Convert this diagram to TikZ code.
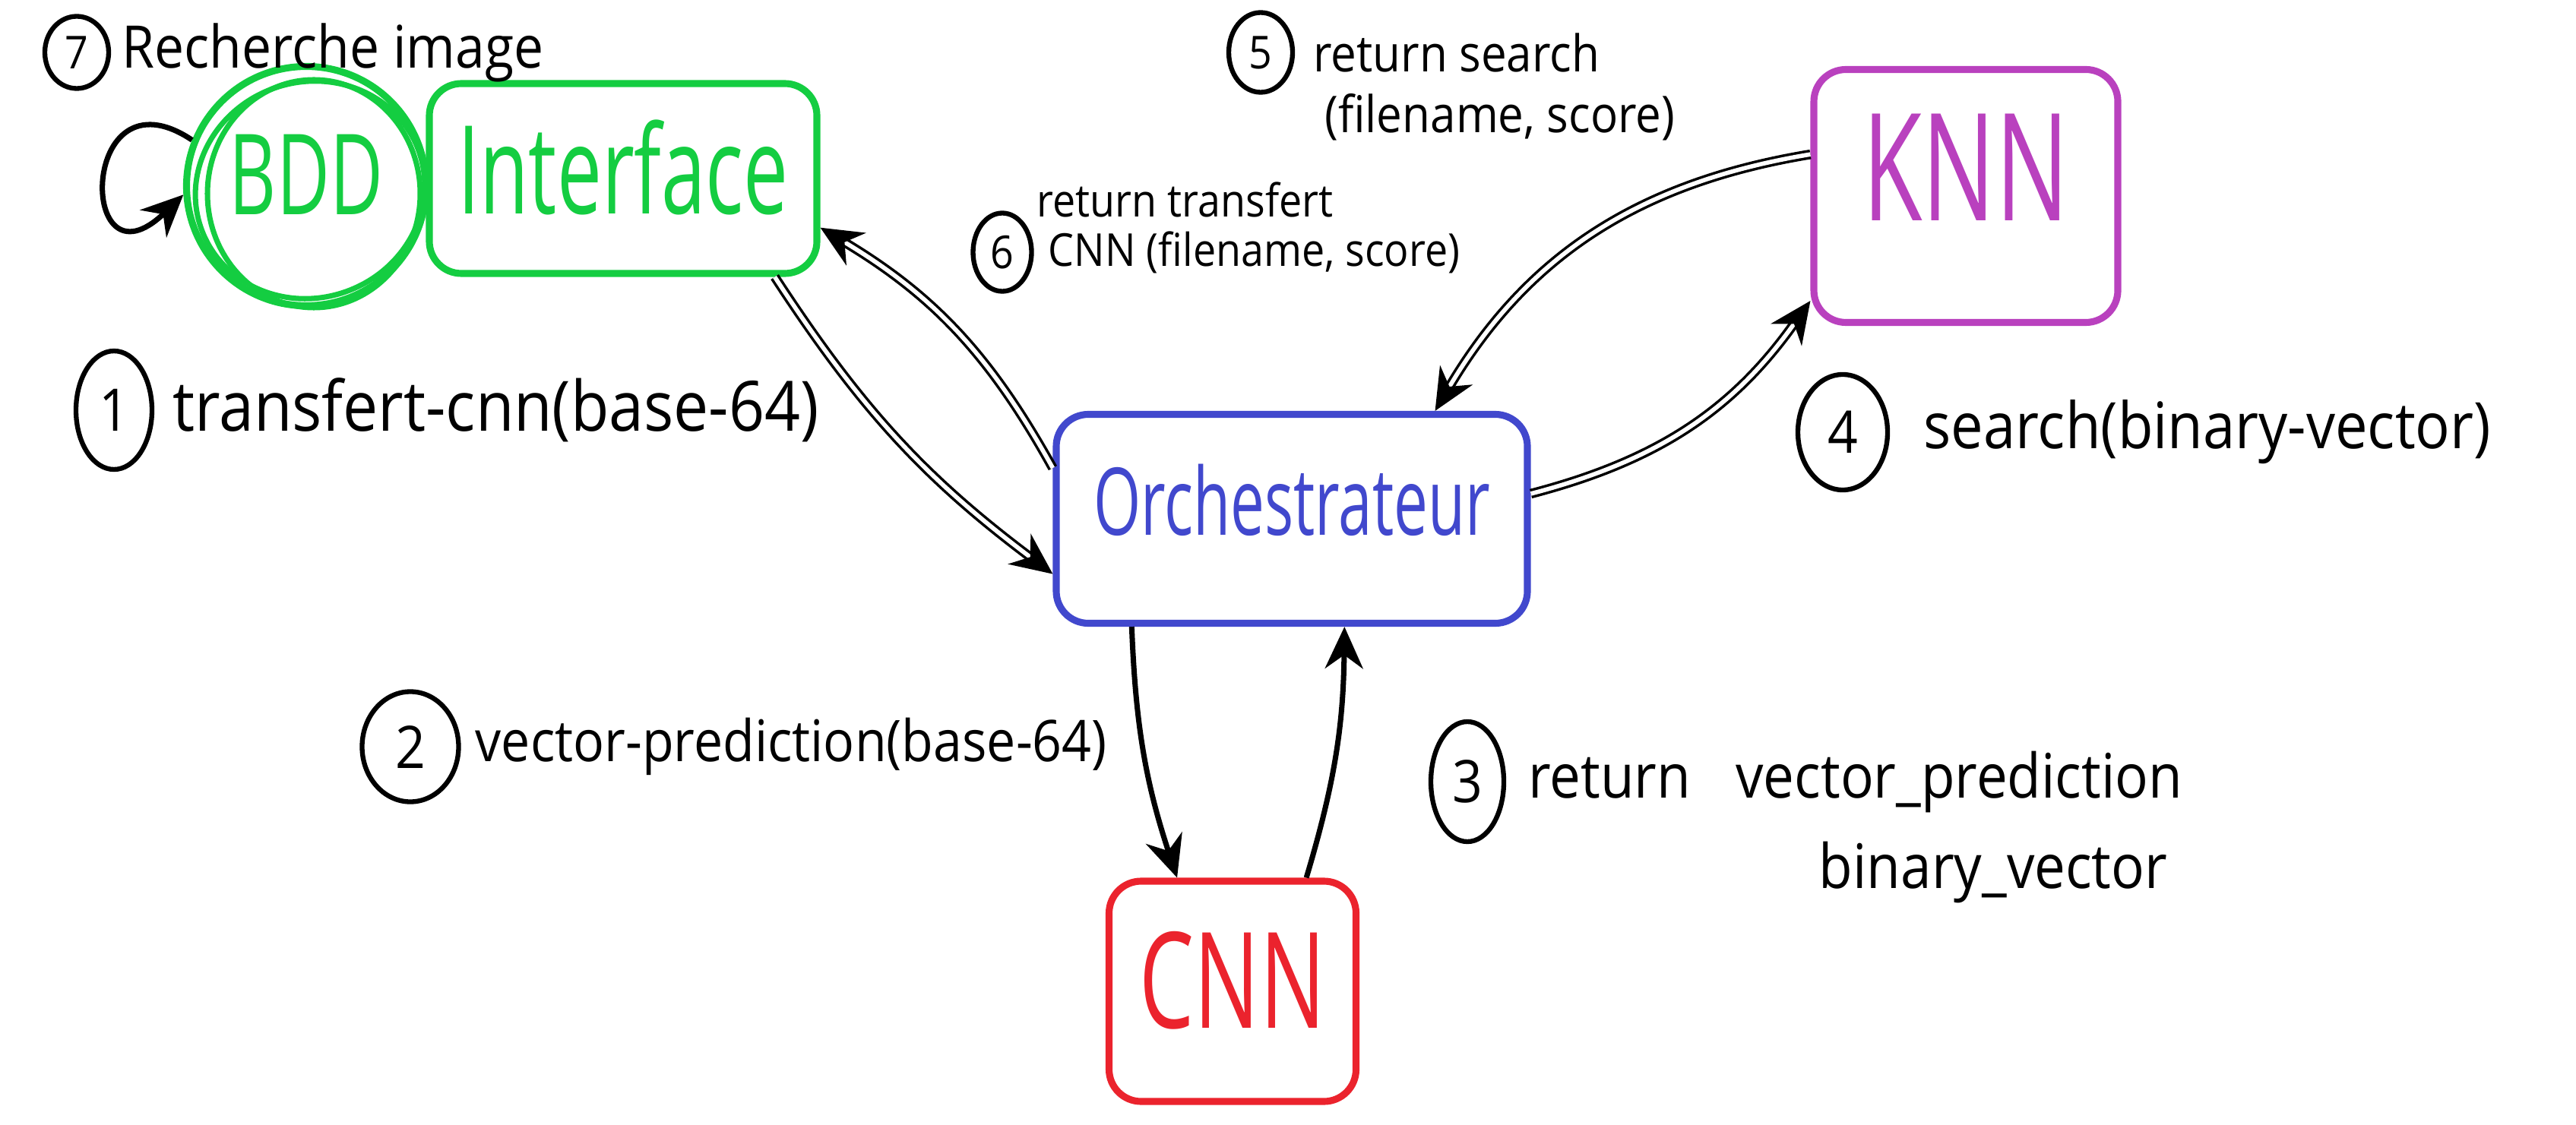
\documentclass[tikz,border=0pt]{standalone}
\usepackage{fontspec}
\usetikzlibrary{arrows.meta, shapes.geometric, positioning}
\newfontfamily\namefont{Open Sans}[FakeStretch=0.65]
\newfontfamily\labelfont{Open Sans}[FakeStretch=0.9]
\definecolor{igreen}{RGB}{20,205,65}
\definecolor{kpurple}{RGB}{185,65,190}
\definecolor{oblue}{RGB}{65,72,205}
\definecolor{cred}{RGB}{235,35,45}

\begin{document}
\begin{tikzpicture}[
	box/.style={draw, line width=2.6pt, rounded corners=12pt, inner sep=0pt},
	flow/.style={line width=2pt, -{Stealth[length=5.5mm, width=5mm]}},
	dflow/.style={flow, double, double distance=1.6pt, line width=1pt},
	num/.style={ellipse, draw, line width=1.8pt, minimum width=1.0cm, minimum height=1.56cm, inner sep=0pt, font=\labelfont\fontsize{22}{24}\selectfont},
	numsmall/.style={num, minimum width=0.84cm, minimum height=1.05cm, font=\labelfont\fontsize{17}{19}\selectfont},
	lbl/.style={inner sep=1pt, font=\labelfont\fontsize{24}{28}\selectfont},
	lblsmall/.style={inner sep=1pt, font=\labelfont\fontsize{18}{21}\selectfont}
]
\useasboundingbox (0,0) rectangle (33.9,14.8);

% boxes
\node[box, draw=igreen, text=igreen, minimum width=5.1cm, minimum height=2.5cm, text depth=0.3cm, font=\namefont\fontsize{46}{50}\selectfont] (interface) at (8.2,12.45) {Interface};
\node[circle, draw=igreen, line width=2.6pt, minimum size=3.15cm, text=igreen, text depth=0.3cm, font=\namefont\fontsize{42}{46}\selectfont] (bdd) at (4.03,12.35) {BDD};
\draw[igreen, line width=2pt] ([shift={(0.05,-0.05)}]bdd.center) ellipse [x radius=1.52cm, y radius=1.42cm, rotate=20];
\draw[igreen, line width=2pt] ([shift={(0.1,-0.1)}]bdd.center) ellipse [x radius=1.4cm, y radius=1.5cm];
\node[box, draw=kpurple, text=kpurple, minimum width=4cm, minimum height=3.33cm, text depth=0.76cm, font=\namefont\fontsize{56}{60}\selectfont] (knn) at (25.87,12.22) {KNN};
\node[box, draw=oblue, text=oblue, minimum width=6.2cm, minimum height=2.75cm, text depth=0.5cm, font=\namefont\fontsize{35}{38}\selectfont] (orch) at (17.0,7.97) {Orchestrateur};
\node[box, draw=cred, text=cred, minimum width=3.25cm, minimum height=2.9cm, text depth=0.3cm, font=\namefont\fontsize{50}{54}\selectfont] (cnn) at (16.22,1.75) {CNN};

% steps
\node[numsmall, minimum height=0.95cm] (n7) at (1.01,14.11) {7};
\node[lbl, right=0.1cm of n7, font=\labelfont\fontsize{22}{26}\selectfont] (l7) {Recherche image};

\node[num] (n1) at (1.5,9.4) {1};
\node[lbl, right=0.2cm of n1, font=\labelfont\fontsize{26}{30}\selectfont] (l1) {transfert-cnn(base-64)};

\node[num, minimum width=1.27cm, minimum height=1.45cm] (n2) at (5.4,4.97) {2};
\node[lbl, right=0.15cm of n2, font=\labelfont\fontsize{21.5}{25}\selectfont] (l2) {vector-prediction(base-64)};

\node[num, minimum width=0.96cm, minimum height=1.58cm] (n3) at (19.31,4.51) {3};
\node[lbl, right=0.25cm of n3, font=\labelfont\fontsize{23}{27}\selectfont] (l3) {return\enspace\ vector\_prediction};
\node[lbl, anchor=north east, font=\labelfont\fontsize{23}{27}\selectfont] (l3b) at ([xshift=-0.2cm, yshift=-0.3cm]l3.south east) {binary\_vector};

\node[num, minimum width=1.18cm, minimum height=1.52cm] (n4) at (24.25,9.11) {4};
\node[lbl, right=0.4cm of n4] (l4) {search(binary-vector)};

\node[numsmall] (n5) at (16.59,14.11) {5};
\node[lblsmall, right=0.2cm of n5, font=\labelfont\fontsize{19}{22}\selectfont] (l5) {return search};
\node[lblsmall, anchor=north west, font=\labelfont\fontsize{19}{22}\selectfont] (l5b) at ([xshift=0.15cm, yshift=-0.2cm]l5.south west) {(filename, score)};

\node[numsmall, minimum width=0.77cm, minimum height=1.03cm] (n6) at (13.19,11.48) {6};
\node[lblsmall, right=0.15cm of n6, font=\labelfont\fontsize{17}{20}\selectfont] (l6b) {CNN (filename, score)};
\node[lblsmall, anchor=south west, font=\labelfont\fontsize{17}{20}\selectfont] (l6) at ([xshift=-0.15cm, yshift=0.1cm]l6b.north west) {return transfert};

% connectors
\draw[flow] (bdd.158) .. controls +(-1.5,1.0) and +(-1.4,-1.35) .. (bdd.184);
\draw[dflow, bend right=10] (interface.-33) to (orch.193);
\draw[dflow, bend right=15] (orch.168) to (interface.-14);
\draw[flow, bend right=8] (orch.214) to (cnn.116);
\draw[flow, bend right=8] (cnn.57) to (orch.-64);
\draw[dflow, bend right=20] (orch.6) to (knn.214);
\draw[dflow, bend right=25] (knn.165) to (orch.37);

\end{tikzpicture}
\end{document}
